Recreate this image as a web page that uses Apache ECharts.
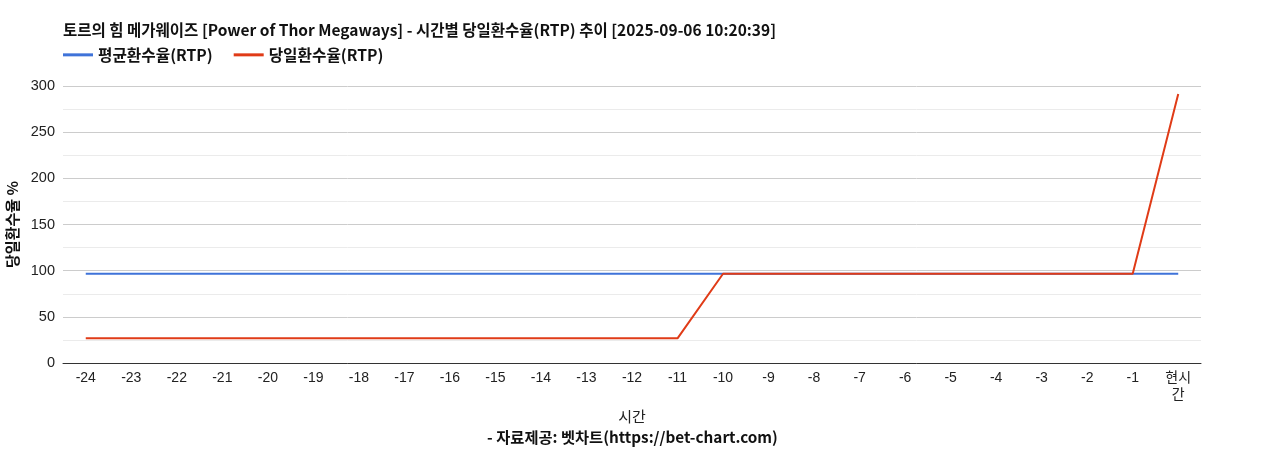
<!DOCTYPE html>
<html>
<head>
<meta charset="utf-8">
<script src="https://cdn.jsdelivr.net/npm/echarts@6/dist/echarts.min.js"></script>
<style>
	html, body { margin: 0; padding: 0; background: #fff; }
	#chart { width: 1265px; height: 450px; }
</style>
</head>
<body>
<div id="chart"></div>
<script>
// 시간 축 (24시간 전 ~ 현재)
var categories = ['-24', '-23', '-22', '-21', '-20', '-19', '-18', '-17', '-16', '-15', '-14', '-13',
	'-12', '-11', '-10', '-9', '-8', '-7', '-6', '-5', '-4', '-3', '-2', '-1', '현시간'];

// 평균환수율(RTP)
var avgRtp = [96.7, 96.7, 96.7, 96.7, 96.7, 96.7, 96.7, 96.7, 96.7, 96.7, 96.7, 96.7,
	96.7, 96.7, 96.7, 96.7, 96.7, 96.7, 96.7, 96.7, 96.7, 96.7, 96.7, 96.7, 96.7];

// 당일환수율(RTP)
var dailyRtp = [26.7, 26.7, 26.7, 26.7, 26.7, 26.7, 26.7, 26.7, 26.7, 26.7, 26.7, 26.7,
	26.7, 26.7, 96.7, 96.7, 96.7, 96.7, 96.7, 96.7, 96.7, 96.7, 96.7, 96.7, 291.4];

var yTicks = [0, 50, 100, 150, 200, 250, 300];

var seriesNames = ['평균환수율(RTP)', '당일환수율(RTP)'];

var krFont = '"Noto Sans CJK KR", sans-serif';
var numFont = '"Liberation Sans", "Noto Sans CJK KR", sans-serif';

var myChart = echarts.init(document.getElementById('chart'));

var option = {
	animation : false,
	color : [ '#3f73d9', '#e03b17' ],
	title : [ {
		text : '토르의 힘 메가웨이즈 [Power of Thor Megaways] - 시간별 당일환수율(RTP) 추이 [2025-09-06 10:20:39]',
		left : 63,
		top : 22,
		padding : 0,
		textStyle : {
			fontFamily : krFont,
			fontSize : 15.5,
			fontWeight : 'bold',
			color : '#111'
		}
	}, {
		text : '- 자료제공: 벳차트(https://bet-chart.com)',
		left : 'center',
		top : 430,
		padding : 0,
		textStyle : {
			fontFamily : krFont,
			fontSize : 15.3,
			fontWeight : 'bold',
			color : '#111'
		}
	} ],
	legend : { // 범례
		left : 63,
		top : 47,
		padding : 0,
		itemWidth : 30,
		itemHeight : 3,
		itemGap : 21,
		icon : 'rect',
		data : seriesNames,
		textStyle : {
			fontFamily : krFont,
			fontSize : 15.7,
			fontWeight : 'bold',
			color : '#111'
		}
	},
	grid : {
		left : 63,
		right : 64,
		top : 86,
		bottom : 87,
		outerBoundsMode : 'none'
	},
	xAxis : {
		type : 'category',
		data : categories,
		boundaryGap : true,
		name : '시간',
		nameLocation : 'middle',
		nameGap : 43,
		nameTextStyle : {
			fontFamily : krFont,
			fontSize : 15,
			color : '#222'
		},
		axisLine : {
			lineStyle : {
				color : '#333'
			}
		},
		axisTick : { show : false },
		axisLabel : {
			fontFamily : numFont,
			fontSize : 14,
			color : '#222',
			margin : 7,
			interval : 0,
			width : 32,
			overflow : 'break',
			lineHeight : 17
		}
	},
	yAxis : {
		type : 'value',
		min : yTicks[0],
		max : yTicks[yTicks.length - 1],
		interval : 50,
		name : '당일환수율 %',
		nameLocation : 'middle',
		nameGap : 43,
		nameTextStyle : {
			fontFamily : krFont,
			fontSize : 15,
			fontWeight : 'bold',
			color : '#111'
		},
		axisLine : { show : false },
		axisTick : { show : false },
		axisLabel : {
			fontFamily : numFont,
			fontSize : 14.5,
			color : '#222',
			margin : 8
		},
		splitLine : {
			lineStyle : { color : '#cccccc' }
		},
		minorTick : { show : false, splitNumber : 2 },
		minorSplitLine : {
			show : true,
			lineStyle : { color : '#ebebeb' }
		}
	},
	series : [ {
		name : seriesNames[0],
		type : 'line',
		data : avgRtp,
		showSymbol : false,
		lineStyle : { width : 2 },
		z : 2
	}, {
		name : seriesNames[1],
		type : 'line',
		data : dailyRtp,
		showSymbol : false,
		lineStyle : { width : 2 },
		z : 3
	} ]
};

myChart.setOption(option);
</script>
</body>
</html>
